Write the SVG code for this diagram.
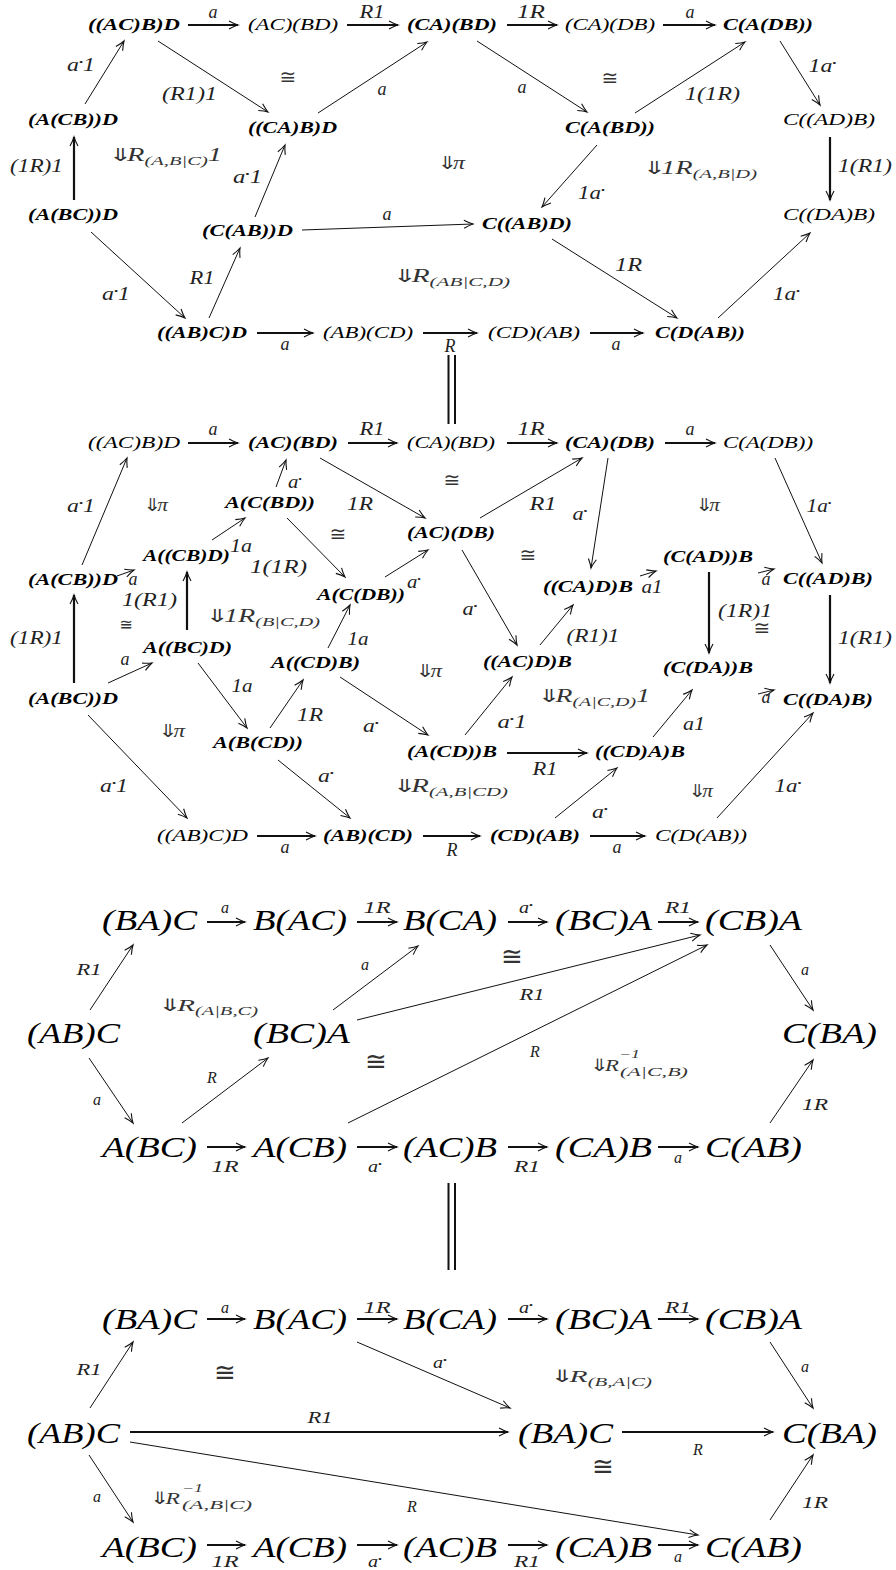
<svg xmlns="http://www.w3.org/2000/svg" width="896" height="1570" viewBox="0 0 896 1570">
<style>
text{font-family:"Liberation Serif","DejaVu Serif",serif;font-style:italic}
.nb{font-size:17px;font-weight:bold;fill:#000;text-anchor:middle}
.nn{font-size:17px;fill:#000;text-anchor:middle}
.N{font-size:30px;fill:#000;text-anchor:middle}
.l{font-size:18px;fill:#222;text-anchor:middle}
.s{font-size:16px;fill:#222;text-anchor:middle}
.c{font-size:18px;fill:#333}
.c2{font-size:17px;fill:#333}
.sub{font-size:13px}
.sub2{font-size:12px}
.ar{font-family:"DejaVu Sans",sans-serif;font-style:normal}
.d{font-size:9px;font-style:normal}
.iso{font-family:"DejaVu Sans",sans-serif;font-style:normal;font-size:20px;fill:#333;text-anchor:middle}
.iso2{font-family:"DejaVu Sans",sans-serif;font-style:normal;font-size:26px;fill:#333;text-anchor:middle}
.e{fill:none;stroke:#111;stroke-width:1;marker-end:url(#ah)}
.t{stroke-width:2.2}
.dbl{fill:none;stroke:#111;stroke-width:2}
</style>
<defs>
<marker id="ah" viewBox="-10 -6 12 12" refX="0" refY="0" markerWidth="12" markerHeight="12" markerUnits="userSpaceOnUse" orient="auto">
<path d="M-9,-4 Q-3.5,-1 0,0 Q-3.5,1 -9,4" fill="none" stroke="#111" stroke-width="1.1"/>
</marker>
</defs>
<rect width="896" height="1570" fill="#fff"/>

<g id="connectors">
<!-- diagram 1 -->
<path class="e t" d="M188 25H238"/>
<path class="e t" d="M347 25H398"/>
<path class="e t" d="M507 25H557"/>
<path class="e t" d="M663 25H715"/>
<path class="e" d="M85 104L124 41"/>
<path class="e t" d="M74 200V137"/>
<path class="e" d="M158 41L268 112"/>
<path class="e" d="M318 113L427 42"/>
<path class="e" d="M255 217L285 145"/>
<path class="e" d="M302 230L473 224"/>
<path class="e" d="M91 232L185 318"/>
<path class="e" d="M209 318L240 248"/>
<path class="e" d="M477 41L587 112"/>
<path class="e" d="M635 113L745 42"/>
<path class="e" d="M780 41L820 105"/>
<path class="e t" d="M830 137V200"/>
<path class="e" d="M597 145L542 207"/>
<path class="e" d="M552 239L677 318"/>
<path class="e" d="M718 318L810 233"/>
<path class="e t" d="M257 333H313"/>
<path class="e t" d="M423 333H477"/>
<path class="e t" d="M590 333H643"/>
<path class="dbl" d="M448.5 355V424M455 355V424"/>
<!-- diagram 2 -->
<path class="e t" d="M188 443H238"/>
<path class="e t" d="M348 443H397"/>
<path class="e t" d="M507 443H557"/>
<path class="e t" d="M665 443H715"/>
<path class="e" d="M82 565L127 458"/>
<path class="e" d="M276 487L286 460"/>
<path class="e" d="M212 540L245 518"/>
<path class="e" d="M117 576L134 570"/>
<path class="e t" d="M187 630V572"/>
<path class="e t" d="M74 683V595"/>
<path class="e" d="M108 683L152 663"/>
<path class="e" d="M287 518L345 577"/>
<path class="e" d="M320 458L425 518"/>
<path class="e" d="M385 577L428 550"/>
<path class="e" d="M480 518L582 458"/>
<path class="e" d="M608 458L591 568"/>
<path class="e" d="M640 576L656 571"/>
<path class="e" d="M462 550L517 645"/>
<path class="e" d="M540 645L573 605"/>
<path class="e" d="M328 648L350 605"/>
<path class="e" d="M270 728L303 680"/>
<path class="e" d="M198 663L247 728"/>
<path class="e" d="M88 715L187 818"/>
<path class="e" d="M340 677L428 735"/>
<path class="e" d="M465 735L512 677"/>
<path class="e t" d="M507 753H587"/>
<path class="e" d="M653 737L692 690"/>
<path class="e t" d="M709 572V653"/>
<path class="e" d="M758 573L774 569"/>
<path class="e" d="M758 694L774 690"/>
<path class="e t" d="M830 595V683"/>
<path class="e" d="M775 458L822 563"/>
<path class="e" d="M717 818L813 713"/>
<path class="e" d="M555 818L617 768"/>
<path class="e" d="M278 760L350 818"/>
<path class="e t" d="M257 836H315"/>
<path class="e t" d="M423 836H480"/>
<path class="e t" d="M590 836H645"/>
<!-- diagram 3 -->
<path class="e t" d="M207 922H245"/>
<path class="e t" d="M357 922H397"/>
<path class="e t" d="M508 922H547"/>
<path class="e t" d="M658 922H698"/>
<path class="e t" d="M207 1147H245"/>
<path class="e t" d="M357 1147H397"/>
<path class="e t" d="M508 1147H547"/>
<path class="e t" d="M658 1147H698"/>
<path class="e" d="M90 1010L133 945"/>
<path class="e" d="M89 1058L133 1123"/>
<path class="e" d="M182 1123L268 1058"/>
<path class="e" d="M333 1010L418 946"/>
<path class="e" d="M357 1020L700 935"/>
<path class="e" d="M348 1123L707 945"/>
<path class="e" d="M770 945L813 1010"/>
<path class="e" d="M770 1123L813 1060"/>
<path class="dbl" d="M448.5 1183V1270M455 1183V1270"/>
<!-- diagram 4 -->
<path class="e t" d="M207 1319H245"/>
<path class="e t" d="M357 1319H397"/>
<path class="e t" d="M508 1319H547"/>
<path class="e t" d="M658 1319H698"/>
<path class="e t" d="M207 1545H245"/>
<path class="e t" d="M357 1545H397"/>
<path class="e t" d="M508 1545H547"/>
<path class="e t" d="M658 1545H698"/>
<path class="e t" d="M130 1432H508"/>
<path class="e t" d="M622 1432H773"/>
<path class="e" d="M90 1408L133 1342"/>
<path class="e" d="M89 1455L133 1522"/>
<path class="e" d="M357 1342L510 1408"/>
<path class="e" d="M130 1442L698 1535"/>
<path class="e" d="M770 1342L813 1408"/>
<path class="e" d="M770 1520L813 1455"/>
</g>

<!-- Diagram 1 nodes -->
<g id="d1-n1"><text class="nb" x="134" y="30" textLength="92" lengthAdjust="spacingAndGlyphs">((AC)B)D</text></g>
<g id="d1-n2"><text class="nn" x="293" y="30" textLength="90" lengthAdjust="spacingAndGlyphs">(AC)(BD)</text></g>
<g id="d1-n3"><text class="nb" x="452" y="30" textLength="90" lengthAdjust="spacingAndGlyphs">(CA)(BD)</text></g>
<g id="d1-n4"><text class="nn" x="610" y="30" textLength="90" lengthAdjust="spacingAndGlyphs">(CA)(DB)</text></g>
<g id="d1-n5"><text class="nb" x="768" y="30" textLength="90" lengthAdjust="spacingAndGlyphs">C(A(DB))</text></g>
<g id="d1-n6"><text class="nb" x="73" y="125" textLength="90" lengthAdjust="spacingAndGlyphs">(A(CB))D</text></g>
<g id="d1-n7"><text class="nb" x="292.5" y="133" textLength="89" lengthAdjust="spacingAndGlyphs">((CA)B)D</text></g>
<g id="d1-n8"><text class="nb" x="610" y="133" textLength="90" lengthAdjust="spacingAndGlyphs">C(A(BD))</text></g>
<g id="d1-n9"><text class="nn" x="829" y="125" textLength="92" lengthAdjust="spacingAndGlyphs">C((AD)B)</text></g>
<g id="d1-n10"><text class="nb" x="73" y="220" textLength="90" lengthAdjust="spacingAndGlyphs">(A(BC))D</text></g>
<g id="d1-n11"><text class="nb" x="247.5" y="236" textLength="91" lengthAdjust="spacingAndGlyphs">(C(AB))D</text></g>
<g id="d1-n12"><text class="nb" x="527" y="229" textLength="90" lengthAdjust="spacingAndGlyphs">C((AB)D)</text></g>
<g id="d1-n13"><text class="nn" x="829" y="220" textLength="92" lengthAdjust="spacingAndGlyphs">C((DA)B)</text></g>
<g id="d1-n14"><text class="nb" x="202" y="338" textLength="90" lengthAdjust="spacingAndGlyphs">((AB)C)D</text></g>
<g id="d1-n15"><text class="nn" x="368" y="338" textLength="90" lengthAdjust="spacingAndGlyphs">(AB)(CD)</text></g>
<g id="d1-n16"><text class="nn" x="534" y="338" textLength="92" lengthAdjust="spacingAndGlyphs">(CD)(AB)</text></g>
<g id="d1-n17"><text class="nb" x="700" y="338" textLength="90" lengthAdjust="spacingAndGlyphs">C(D(AB))</text></g>

<!-- Diagram 2 nodes -->
<g id="d2-n1"><text class="nn" x="134" y="448" textLength="92" lengthAdjust="spacingAndGlyphs">((AC)B)D</text></g>
<g id="d2-n2"><text class="nb" x="293" y="448" textLength="90" lengthAdjust="spacingAndGlyphs">(AC)(BD)</text></g>
<g id="d2-n3"><text class="nn" x="451" y="448" textLength="88" lengthAdjust="spacingAndGlyphs">(CA)(BD)</text></g>
<g id="d2-n4"><text class="nb" x="610" y="448" textLength="90" lengthAdjust="spacingAndGlyphs">(CA)(DB)</text></g>
<g id="d2-n5"><text class="nn" x="768" y="448" textLength="90" lengthAdjust="spacingAndGlyphs">C(A(DB))</text></g>
<g id="d2-n6"><text class="nb" x="270" y="508" textLength="90" lengthAdjust="spacingAndGlyphs">A(C(BD))</text></g>
<g id="d2-n7"><text class="nb" x="186.5" y="561" textLength="87" lengthAdjust="spacingAndGlyphs">A((CB)D)</text></g>
<g id="d2-n8"><text class="nb" x="73" y="585" textLength="90" lengthAdjust="spacingAndGlyphs">(A(CB))D</text></g>
<g id="d2-n9"><text class="nb" x="187.5" y="653" textLength="89" lengthAdjust="spacingAndGlyphs">A((BC)D)</text></g>
<g id="d2-n10"><text class="nb" x="73" y="704" textLength="90" lengthAdjust="spacingAndGlyphs">(A(BC))D</text></g>
<g id="d2-n11"><text class="nb" x="451" y="538" textLength="88" lengthAdjust="spacingAndGlyphs">(AC)(DB)</text></g>
<g id="d2-n12"><text class="nb" x="361" y="600" textLength="88" lengthAdjust="spacingAndGlyphs">A(C(DB))</text></g>
<g id="d2-n13"><text class="nb" x="588" y="592" textLength="90" lengthAdjust="spacingAndGlyphs">((CA)D)B</text></g>
<g id="d2-n14"><text class="nb" x="527.5" y="667" textLength="89" lengthAdjust="spacingAndGlyphs">((AC)D)B</text></g>
<g id="d2-n15"><text class="nb" x="315.5" y="668" textLength="89" lengthAdjust="spacingAndGlyphs">A((CD)B)</text></g>
<g id="d2-n16"><text class="nb" x="258" y="748" textLength="90" lengthAdjust="spacingAndGlyphs">A(B(CD))</text></g>
<g id="d2-n17"><text class="nb" x="452" y="757" textLength="90" lengthAdjust="spacingAndGlyphs">(A(CD))B</text></g>
<g id="d2-n18"><text class="nb" x="640" y="757" textLength="90" lengthAdjust="spacingAndGlyphs">((CD)A)B</text></g>
<g id="d2-n19"><text class="nb" x="708" y="562" textLength="90" lengthAdjust="spacingAndGlyphs">(C(AD))B</text></g>
<g id="d2-n20"><text class="nb" x="708" y="673" textLength="90" lengthAdjust="spacingAndGlyphs">(C(DA))B</text></g>
<g id="d2-n21"><text class="nb" x="828" y="584" textLength="90" lengthAdjust="spacingAndGlyphs">C((AD)B)</text></g>
<g id="d2-n22"><text class="nb" x="828" y="705" textLength="90" lengthAdjust="spacingAndGlyphs">C((DA)B)</text></g>
<g id="d2-n23"><text class="nn" x="202.5" y="841" textLength="91" lengthAdjust="spacingAndGlyphs">((AB)C)D</text></g>
<g id="d2-n24"><text class="nb" x="368" y="841" textLength="90" lengthAdjust="spacingAndGlyphs">(AB)(CD)</text></g>
<g id="d2-n25"><text class="nb" x="535" y="841" textLength="90" lengthAdjust="spacingAndGlyphs">(CD)(AB)</text></g>
<g id="d2-n26"><text class="nn" x="701" y="841" textLength="92" lengthAdjust="spacingAndGlyphs">C(D(AB))</text></g>

<!-- Diagram 3 nodes -->
<g id="d3-n1"><text class="N" x="149.5" y="930" textLength="95" lengthAdjust="spacingAndGlyphs">(BA)C</text></g>
<g id="d3-n2"><text class="N" x="300" y="930" textLength="94" lengthAdjust="spacingAndGlyphs">B(AC)</text></g>
<g id="d3-n3"><text class="N" x="450" y="930" textLength="94" lengthAdjust="spacingAndGlyphs">B(CA)</text></g>
<g id="d3-n4"><text class="N" x="603.5" y="930" textLength="97" lengthAdjust="spacingAndGlyphs">(BC)A</text></g>
<g id="d3-n5"><text class="N" x="753.5" y="930" textLength="97" lengthAdjust="spacingAndGlyphs">(CB)A</text></g>
<g id="d3-n6"><text class="N" x="73.5" y="1043" textLength="93" lengthAdjust="spacingAndGlyphs">(AB)C</text></g>
<g id="d3-n7"><text class="N" x="301.5" y="1043" textLength="97" lengthAdjust="spacingAndGlyphs">(BC)A</text></g>
<g id="d3-n8"><text class="N" x="829.5" y="1043" textLength="95" lengthAdjust="spacingAndGlyphs">C(BA)</text></g>
<g id="d3-n9"><text class="N" x="149.5" y="1157" textLength="95" lengthAdjust="spacingAndGlyphs">A(BC)</text></g>
<g id="d3-n10"><text class="N" x="300" y="1157" textLength="94" lengthAdjust="spacingAndGlyphs">A(CB)</text></g>
<g id="d3-n11"><text class="N" x="450" y="1157" textLength="94" lengthAdjust="spacingAndGlyphs">(AC)B</text></g>
<g id="d3-n12"><text class="N" x="603.5" y="1157" textLength="97" lengthAdjust="spacingAndGlyphs">(CA)B</text></g>
<g id="d3-n13"><text class="N" x="753.5" y="1157" textLength="97" lengthAdjust="spacingAndGlyphs">C(AB)</text></g>

<!-- Diagram 4 nodes -->
<g id="d4-n1"><text class="N" x="149.5" y="1329" textLength="95" lengthAdjust="spacingAndGlyphs">(BA)C</text></g>
<g id="d4-n2"><text class="N" x="300" y="1329" textLength="94" lengthAdjust="spacingAndGlyphs">B(AC)</text></g>
<g id="d4-n3"><text class="N" x="450" y="1329" textLength="94" lengthAdjust="spacingAndGlyphs">B(CA)</text></g>
<g id="d4-n4"><text class="N" x="603.5" y="1329" textLength="97" lengthAdjust="spacingAndGlyphs">(BC)A</text></g>
<g id="d4-n5"><text class="N" x="753.5" y="1329" textLength="97" lengthAdjust="spacingAndGlyphs">(CB)A</text></g>
<g id="d4-n6"><text class="N" x="73.5" y="1443" textLength="93" lengthAdjust="spacingAndGlyphs">(AB)C</text></g>
<g id="d4-n7"><text class="N" x="565.5" y="1443" textLength="95" lengthAdjust="spacingAndGlyphs">(BA)C</text></g>
<g id="d4-n8"><text class="N" x="829.5" y="1443" textLength="95" lengthAdjust="spacingAndGlyphs">C(BA)</text></g>
<g id="d4-n9"><text class="N" x="149.5" y="1557" textLength="95" lengthAdjust="spacingAndGlyphs">A(BC)</text></g>
<g id="d4-n10"><text class="N" x="300" y="1557" textLength="94" lengthAdjust="spacingAndGlyphs">A(CB)</text></g>
<g id="d4-n11"><text class="N" x="450" y="1557" textLength="94" lengthAdjust="spacingAndGlyphs">(AC)B</text></g>
<g id="d4-n12"><text class="N" x="603.5" y="1557" textLength="97" lengthAdjust="spacingAndGlyphs">(CA)B</text></g>
<g id="d4-n13"><text class="N" x="753.5" y="1557" textLength="97" lengthAdjust="spacingAndGlyphs">C(AB)</text></g>

<g id="edge-labels">
<!-- d1 -->
<text class="l" x="213" y="18">a</text>
<text class="l" x="372" y="18" textLength="25" lengthAdjust="spacingAndGlyphs">R1</text>
<text class="l" x="531" y="18" textLength="28" lengthAdjust="spacingAndGlyphs">1R</text>
<text class="l" x="690" y="18">a</text>
<text class="l" x="81" y="71" textLength="28" lengthAdjust="spacingAndGlyphs">a<tspan class="d" dy="-6">•</tspan><tspan dy="6">1</tspan></text>
<text class="l" x="36.5" y="172" textLength="53" lengthAdjust="spacingAndGlyphs">(1R)1</text>
<text class="l" x="189.5" y="100" textLength="55" lengthAdjust="spacingAndGlyphs">(R1)1</text>
<text class="l" x="382" y="95">a</text>
<text class="l" x="247.5" y="183" textLength="29" lengthAdjust="spacingAndGlyphs">a<tspan class="d" dy="-6">•</tspan><tspan dy="6">1</tspan></text>
<text class="l" x="387" y="220">a</text>
<text class="l" x="116" y="300" textLength="28" lengthAdjust="spacingAndGlyphs">a<tspan class="d" dy="-6">•</tspan><tspan dy="6">1</tspan></text>
<text class="l" x="202" y="284" textLength="25" lengthAdjust="spacingAndGlyphs">R1</text>
<text class="l" x="522" y="93">a</text>
<text class="l" x="712.5" y="100" textLength="55" lengthAdjust="spacingAndGlyphs">1(1R)</text>
<text class="l" x="822.5" y="72" textLength="28" lengthAdjust="spacingAndGlyphs">1a<tspan class="d" dy="-6">•</tspan></text>
<text class="l" x="865" y="172" textLength="54" lengthAdjust="spacingAndGlyphs">1(R1)</text>
<text class="l" x="591.5" y="199" textLength="27" lengthAdjust="spacingAndGlyphs">1a<tspan class="d" dy="-6">•</tspan></text>
<text class="l" x="628.5" y="271" textLength="27" lengthAdjust="spacingAndGlyphs">1R</text>
<text class="l" x="786.5" y="300" textLength="27" lengthAdjust="spacingAndGlyphs">1a<tspan class="d" dy="-6">•</tspan></text>
<text class="l" x="285" y="350">a</text>
<text class="l" x="450" y="352">R</text>
<text class="l" x="616" y="350">a</text>
<!-- d2 -->
<text class="l" x="213" y="435">a</text>
<text class="l" x="372" y="435" textLength="25" lengthAdjust="spacingAndGlyphs">R1</text>
<text class="l" x="531" y="435" textLength="27" lengthAdjust="spacingAndGlyphs">1R</text>
<text class="l" x="690" y="435">a</text>
<text class="l" x="81" y="512" textLength="28" lengthAdjust="spacingAndGlyphs">a<tspan class="d" dy="-6">•</tspan><tspan dy="6">1</tspan></text>
<text class="l" x="295" y="488" textLength="14" lengthAdjust="spacingAndGlyphs">a<tspan class="d" dy="-6">•</tspan></text>
<text class="l" x="241" y="552" textLength="22" lengthAdjust="spacingAndGlyphs">1a</text>
<text class="l" x="133" y="585">a</text>
<text class="l" x="149.5" y="606" textLength="55" lengthAdjust="spacingAndGlyphs">1(R1)</text>
<text class="l" x="36.5" y="644" textLength="53" lengthAdjust="spacingAndGlyphs">(1R)1</text>
<text class="l" x="125" y="665">a</text>
<text class="l" x="278.5" y="573" textLength="57" lengthAdjust="spacingAndGlyphs">1(1R)</text>
<text class="l" x="360" y="510" textLength="26" lengthAdjust="spacingAndGlyphs">1R</text>
<text class="l" x="414" y="588" textLength="14" lengthAdjust="spacingAndGlyphs">a<tspan class="d" dy="-6">•</tspan></text>
<text class="l" x="543" y="510" textLength="27" lengthAdjust="spacingAndGlyphs">R1</text>
<text class="l" x="580" y="520" textLength="15" lengthAdjust="spacingAndGlyphs">a<tspan class="d" dy="-6">•</tspan></text>
<text class="l" x="652" y="593" textLength="21" lengthAdjust="spacingAndGlyphs">a1</text>
<text class="l" x="470" y="615" textLength="15" lengthAdjust="spacingAndGlyphs">a<tspan class="d" dy="-6">•</tspan></text>
<text class="l" x="593" y="642" textLength="53" lengthAdjust="spacingAndGlyphs">(R1)1</text>
<text class="l" x="358" y="645" textLength="21" lengthAdjust="spacingAndGlyphs">1a</text>
<text class="l" x="310" y="721" textLength="26" lengthAdjust="spacingAndGlyphs">1R</text>
<text class="l" x="242" y="692" textLength="21" lengthAdjust="spacingAndGlyphs">1a</text>
<text class="l" x="114" y="792" textLength="28" lengthAdjust="spacingAndGlyphs">a<tspan class="d" dy="-6">•</tspan><tspan dy="6">1</tspan></text>
<text class="l" x="371" y="732" textLength="16" lengthAdjust="spacingAndGlyphs">a<tspan class="d" dy="-6">•</tspan></text>
<text class="l" x="512" y="728" textLength="29" lengthAdjust="spacingAndGlyphs">a<tspan class="d" dy="-6">•</tspan><tspan dy="6">1</tspan></text>
<text class="l" x="545" y="775" textLength="25" lengthAdjust="spacingAndGlyphs">R1</text>
<text class="l" x="694" y="730" textLength="22" lengthAdjust="spacingAndGlyphs">a1</text>
<text class="l" x="745" y="617" textLength="54" lengthAdjust="spacingAndGlyphs">(1R)1</text>
<text class="l" x="766" y="585">a</text>
<text class="l" x="766" y="703">a</text>
<text class="l" x="865" y="644" textLength="54" lengthAdjust="spacingAndGlyphs">1(R1)</text>
<text class="l" x="819" y="512" textLength="25" lengthAdjust="spacingAndGlyphs">1a<tspan class="d" dy="-6">•</tspan></text>
<text class="l" x="788" y="792" textLength="27" lengthAdjust="spacingAndGlyphs">1a<tspan class="d" dy="-6">•</tspan></text>
<text class="l" x="600" y="818" textLength="16" lengthAdjust="spacingAndGlyphs">a<tspan class="d" dy="-6">•</tspan></text>
<text class="l" x="326" y="782" textLength="16" lengthAdjust="spacingAndGlyphs">a<tspan class="d" dy="-6">•</tspan></text>
<text class="l" x="285" y="853">a</text>
<text class="l" x="452" y="856">R</text>
<text class="l" x="617" y="853">a</text>
<!-- d3 -->
<text class="s" x="225" y="913">a</text>
<text class="s" x="377" y="913" textLength="27" lengthAdjust="spacingAndGlyphs">1R</text>
<text class="s" x="526" y="913" textLength="14" lengthAdjust="spacingAndGlyphs">a<tspan class="d" dy="-5">•</tspan></text>
<text class="s" x="678" y="913" textLength="26" lengthAdjust="spacingAndGlyphs">R1</text>
<text class="s" x="225" y="1172" textLength="27" lengthAdjust="spacingAndGlyphs">1R</text>
<text class="s" x="375" y="1172" textLength="14" lengthAdjust="spacingAndGlyphs">a<tspan class="d" dy="-5">•</tspan></text>
<text class="s" x="527" y="1172" textLength="26" lengthAdjust="spacingAndGlyphs">R1</text>
<text class="s" x="678" y="1163">a</text>
<text class="s" x="89" y="975" textLength="25" lengthAdjust="spacingAndGlyphs">R1</text>
<text class="s" x="97" y="1105">a</text>
<text class="s" x="212" y="1083">R</text>
<text class="s" x="365" y="970">a</text>
<text class="s" x="532" y="1000" textLength="25" lengthAdjust="spacingAndGlyphs">R1</text>
<text class="s" x="535" y="1057">R</text>
<text class="s" x="805" y="975">a</text>
<text class="s" x="815" y="1110" textLength="26" lengthAdjust="spacingAndGlyphs">1R</text>
<!-- d4 -->
<text class="s" x="225" y="1313">a</text>
<text class="s" x="377" y="1313" textLength="27" lengthAdjust="spacingAndGlyphs">1R</text>
<text class="s" x="526" y="1313" textLength="14" lengthAdjust="spacingAndGlyphs">a<tspan class="d" dy="-5">•</tspan></text>
<text class="s" x="678" y="1313" textLength="26" lengthAdjust="spacingAndGlyphs">R1</text>
<text class="s" x="225" y="1567" textLength="27" lengthAdjust="spacingAndGlyphs">1R</text>
<text class="s" x="375" y="1567" textLength="14" lengthAdjust="spacingAndGlyphs">a<tspan class="d" dy="-5">•</tspan></text>
<text class="s" x="527" y="1567" textLength="26" lengthAdjust="spacingAndGlyphs">R1</text>
<text class="s" x="678" y="1562">a</text>
<text class="s" x="89" y="1375" textLength="25" lengthAdjust="spacingAndGlyphs">R1</text>
<text class="s" x="440" y="1368" textLength="14" lengthAdjust="spacingAndGlyphs">a<tspan class="d" dy="-5">•</tspan></text>
<text class="s" x="320" y="1423" textLength="25" lengthAdjust="spacingAndGlyphs">R1</text>
<text class="s" x="97" y="1502">a</text>
<text class="s" x="412" y="1512">R</text>
<text class="s" x="805" y="1372">a</text>
<text class="s" x="698" y="1455">R</text>
<text class="s" x="815" y="1508" textLength="26" lengthAdjust="spacingAndGlyphs">1R</text>
</g>

<g id="cells">
<!-- d1 -->
<text class="c" x="108" y="161" textLength="114" lengthAdjust="spacingAndGlyphs"><tspan class="ar">⇓</tspan><tspan dx="-3">R</tspan><tspan class="sub" dy="4">(A,B|C)</tspan><tspan dy="-4">1</tspan></text>
<text class="iso" x="288" y="84">≅</text>
<text class="iso" x="610" y="85">≅</text>
<text class="c" x="437" y="169" textLength="28" lengthAdjust="spacingAndGlyphs"><tspan class="ar">⇓</tspan><tspan dx="-3">π</tspan></text>
<text class="c" x="392" y="282" textLength="118" lengthAdjust="spacingAndGlyphs"><tspan class="ar">⇓</tspan><tspan dx="-3">R</tspan><tspan class="sub" dy="4">(AB|C,D)</tspan></text>
<text class="c" x="642" y="174" textLength="115" lengthAdjust="spacingAndGlyphs"><tspan class="ar">⇓</tspan><tspan dx="-3">1R</tspan><tspan class="sub" dy="4">(A,B|D)</tspan></text>
<!-- d2 -->
<text class="c" x="143" y="511" textLength="25" lengthAdjust="spacingAndGlyphs"><tspan class="ar">⇓</tspan><tspan dx="-3">π</tspan></text>
<text class="c" x="205" y="622" textLength="115" lengthAdjust="spacingAndGlyphs"><tspan class="ar">⇓</tspan><tspan dx="-3">1R</tspan><tspan class="sub" dy="4">(B|C,D)</tspan></text>
<text class="c" x="158" y="737" textLength="27" lengthAdjust="spacingAndGlyphs"><tspan class="ar">⇓</tspan><tspan dx="-3">π</tspan></text>
<text class="c" x="415" y="677" textLength="27" lengthAdjust="spacingAndGlyphs"><tspan class="ar">⇓</tspan><tspan dx="-3">π</tspan></text>
<text class="c" x="537" y="702" textLength="113" lengthAdjust="spacingAndGlyphs"><tspan class="ar">⇓</tspan><tspan dx="-3">R</tspan><tspan class="sub" dy="4">(A|C,D)</tspan><tspan dy="-4">1</tspan></text>
<text class="c" x="392" y="792" textLength="116" lengthAdjust="spacingAndGlyphs"><tspan class="ar">⇓</tspan><tspan dx="-3">R</tspan><tspan class="sub" dy="4">(A,B|CD)</tspan></text>
<text class="c" x="695" y="511" textLength="25" lengthAdjust="spacingAndGlyphs"><tspan class="ar">⇓</tspan><tspan dx="-3">π</tspan></text>
<text class="c" x="688" y="797" textLength="25" lengthAdjust="spacingAndGlyphs"><tspan class="ar">⇓</tspan><tspan dx="-3">π</tspan></text>
<text class="iso" x="126" y="630" style="font-size:16px">≅</text>
<text class="iso" x="338" y="541">≅</text>
<text class="iso" x="452" y="487">≅</text>
<text class="iso" x="528" y="562">≅</text>
<text class="iso" x="762" y="635">≅</text>
<!-- d3 -->
<text class="c2" x="158" y="1011" textLength="100" lengthAdjust="spacingAndGlyphs"><tspan class="ar">⇓</tspan><tspan dx="-3">R</tspan><tspan class="sub2" dy="4">(A|B,C)</tspan></text>
<text class="c2" x="590" y="1071" textLength="29" lengthAdjust="spacingAndGlyphs"><tspan class="ar">⇓</tspan><tspan dx="-3">R</tspan></text>
<text class="c2 sub2" x="619" y="1058" textLength="21" lengthAdjust="spacingAndGlyphs">−1</text>
<text class="c2 sub2" x="620" y="1076" textLength="68" lengthAdjust="spacingAndGlyphs">(A|C,B)</text>
<text class="iso2" x="376" y="1070">≅</text>
<text class="iso2" x="512" y="965">≅</text>
<!-- d4 -->
<text class="c2" x="550" y="1382" textLength="102" lengthAdjust="spacingAndGlyphs"><tspan class="ar">⇓</tspan><tspan dx="-3">R</tspan><tspan class="sub2" dy="4">(B,A|C)</tspan></text>
<text class="c2" x="150" y="1504" textLength="30" lengthAdjust="spacingAndGlyphs"><tspan class="ar">⇓</tspan><tspan dx="-3">R</tspan></text>
<text class="c2 sub2" x="182" y="1492" textLength="21" lengthAdjust="spacingAndGlyphs">−1</text>
<text class="c2 sub2" x="182" y="1509" textLength="70" lengthAdjust="spacingAndGlyphs">(A,B|C)</text>
<text class="iso2" x="225" y="1381">≅</text>
<text class="iso2" x="603" y="1475">≅</text>
</g>
</svg>
